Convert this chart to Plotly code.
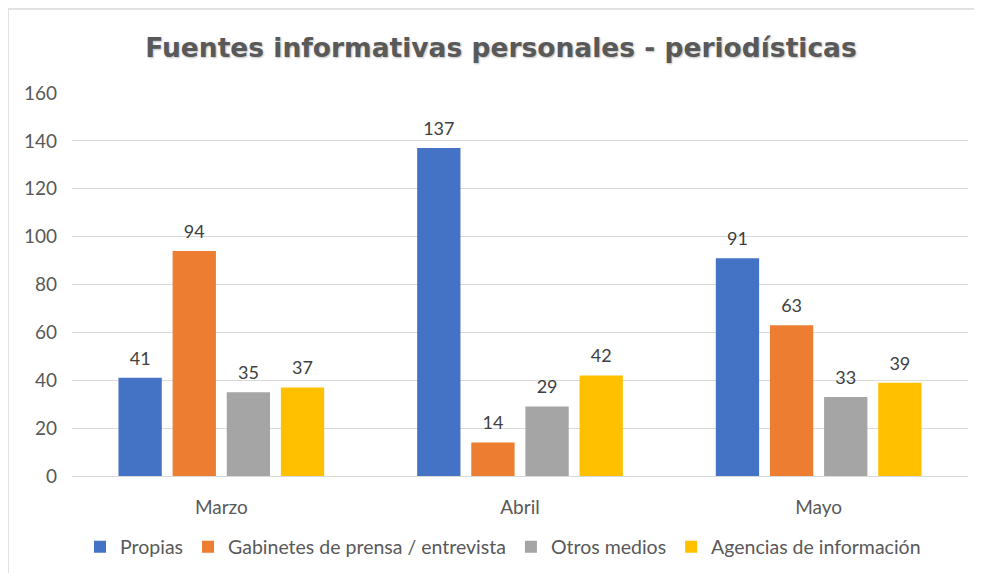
import plotly.graph_objects as go

categories = ["Marzo", "Abril", "Mayo"]
series_names = ["Propias", "Gabinetes de prensa / entrevista", "Otros medios", "Agencias de información"]
propias = [41, 137, 91]
gabinetes = [94, 14, 63]
otros = [35, 29, 33]
agencias = [37, 42, 39]
y_ticks = [0, 20, 40, 60, 80, 100, 120, 140, 160]

colors = ["#4472C4", "#ED7D31", "#A5A5A5", "#FFC000"]
values = [propias, gabinetes, otros, agencias]

FONT = "Lato, 'Open Sans', sans-serif"

fig = go.Figure()
for name, vals, col in zip(series_names, values, colors):
    fig.add_trace(go.Bar(
        x=categories, y=vals, name=name,
        marker=dict(color=col, line=dict(width=0)),
        text=vals,
        texttemplate="<span style='font-size:18px'>%{y}</span><br> ",
        textposition="outside", constraintext="none",
        textfont=dict(family=FONT, size=7, color="#404040"),
        cliponaxis=False,
    ))

# page body has an 8px offset; work in page pixels and subtract it
OFF = 8
W, H = 982 - OFF, 573 - OFF
L, R, T, B = 72 - OFF, 14, 93 - OFF, 573 - 476
pw, ph = W - L - R, H - T - B

def px_x(px):
    return (px - OFF - L) / pw

def px_y(py):
    return (H - B - (py - OFF)) / ph

fig.update_layout(
    width=W, height=H,
    margin=dict(l=L, r=R, t=T, b=B, autoexpand=False),
    paper_bgcolor="white", plot_bgcolor="white",
    barmode="group", bargap=0.275, bargroupgap=0.2,
    title=dict(text="<b>Fuentes informativas personales - periodísticas</b>",
               font=dict(family="'DejaVu Sans', sans-serif", size=26.5, color="#595959",
                         shadow="1px 1px 2px rgba(0,0,0,0.25)"),
               x=(501 - OFF) / W, xanchor="center", y=1 - (48 - OFF) / H, yanchor="middle", yref="container"),
    font=dict(family=FONT, size=18, color="#595959"),
    showlegend=True,
    legend=dict(orientation="h", x=px_x(503), xanchor="center", y=px_y(547), yanchor="middle",
                font=dict(family=FONT, size=19.5, color="#595959"), traceorder="normal",
                itemwidth=30),
    xaxis=dict(showgrid=False, showline=True, linecolor="#d9d9d9", linewidth=1,
               tickfont=dict(family=FONT, size=19, color="#595959"),
               ticks="", ticklabelstandoff=14),
    yaxis=dict(range=[0, 160], tickvals=y_ticks, showgrid=True, gridcolor="#d9d9d9", gridwidth=1,
               zeroline=False, showline=False,
               tickfont=dict(family=FONT, size=19, color="#595959"),
               ticks="", ticklabelstandoff=14),
    shapes=[dict(type="rect", xref="paper", yref="paper",
                 x0=px_x(8), x1=px_x(995), y0=px_y(590), y1=px_y(9),
                 line=dict(color="#d9d9d9", width=1.5), layer="below")],
)

fig.write_html("out.html")
